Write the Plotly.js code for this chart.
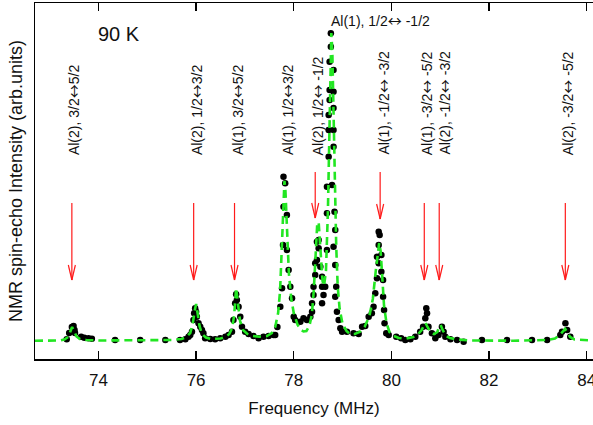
<!DOCTYPE html>
<html>
<head>
<meta charset="utf-8">
<script src="https://cdn.plot.ly/plotly-3.0.1.min.js"></script>
<style>html,body{margin:0;padding:0;background:#fff;overflow:hidden}#chart{width:593px;height:425px}</style>
</head>
<body>
<div id="chart"></div>
<script>
// measured spin-echo points (frequency MHz, intensity arb. units)
const dataFreq = [73.35,73.40,73.455,73.49,73.51,73.52,73.645,73.71,73.795,73.865,74.34,74.855,75.37,75.67,75.78,75.845,75.88,75.915,75.945,75.96,75.98,76.0,76.015,76.05,76.085,76.12,76.15,76.185,76.29,76.39,76.495,76.6,76.665,76.735,76.765,76.80,76.82,76.835,76.87,76.905,76.94,77.005,77.075,77.175,77.28,77.38,77.485,77.585,77.62,77.665,77.725,77.76,77.78,77.79,77.79,77.825,77.86,77.86,77.895,77.93,77.965,78.0,78.03,78.135,78.2,78.27,78.34,78.375,78.375,78.405,78.405,78.44,78.44,78.475,78.475,78.51,78.51,78.545,78.58,78.58,78.61,78.58,78.645,78.68,78.68,78.68,78.715,78.715,78.715,78.735,78.735,78.735,78.76,78.76,78.815,78.815,78.815,78.815,78.815,78.785,78.835,78.85,78.815,78.85,78.87,78.85,78.885,78.92,78.955,78.99,79.09,79.225,79.33,79.40,79.465,79.535,79.60,79.635,79.67,79.705,79.705,79.74,79.74,79.76,79.74,79.795,79.795,79.83,79.83,79.85,79.86,79.895,79.945,80.10,80.20,80.285,80.39,80.49,80.59,80.65,80.695,80.715,80.73,80.76,80.83,80.90,80.965,81.035,81.07,81.105,81.21,81.345,81.48,81.855,82.37,82.88,83.19,83.46,83.495,83.565,83.60,83.665];
const dataInt = [1.7,8,14,15,11,8,4.3,3.3,2.7,2.3,1,1,1,1,1.7,4.3,6,9.3,21,27.7,32.7,29.3,24.3,17.7,14.3,11,7.7,2.7,2,1.7,2.7,4.3,6,9.3,21,37.7,46.7,41,34.3,24.3,14.3,9.3,7,5,2.7,4.3,5,6,6,14,34.3,52.7,96,134.3,164.3,157.7,126,91,71,54.3,42.7,24.3,21,19.3,22.7,21,24.3,29.3,37.7,46,54.3,66,77.7,81,99.3,92.7,101,74.3,64.3,54.3,46,37.7,54.3,91,127.7,154.3,184.3,211,226,241,251,279.3,294.3,307.7,271,249.3,233,211,194.3,156,129.3,111,94.3,76,54.3,44.3,29.3,21,12.7,9.3,9.3,7.7,7,14.3,15,24.3,27.7,34.3,47.7,62.7,84.3,77.7,96,106,109.3,86,69.3,61,44.3,31,17.7,7.7,6,4.3,2.7,1,1.7,4.3,9.3,14.3,22.7,32.7,27.7,14.3,7.7,2.7,6,14.3,9.3,4.3,1.7,1,-0.7,1,1,1,1,6,9.3,17.7,11,4.3];

// fitted curve
const fitFreq = [72.7,73.2,73.3,73.38,73.42,73.46,73.50,73.55,73.62,73.75,74.0,75.0,75.5,75.7,75.8,75.88,75.93,75.97,76.0,76.03,76.07,76.12,76.2,76.3,76.4,76.5,76.6,76.68,76.74,76.78,76.82,76.86,76.9,76.96,77.05,77.15,77.3,77.45,77.55,77.62,77.68,77.72,77.76,77.79,77.81,77.83,77.86,77.9,77.95,78.0,78.08,78.15,78.2,78.26,78.32,78.37,78.41,78.45,78.48,78.51,78.53,78.56,78.59,78.62,78.66,78.70,78.73,78.75,78.77,78.79,78.81,78.84,78.87,78.9,78.94,79.0,79.08,79.15,79.25,79.35,79.45,79.55,79.62,79.68,79.72,79.75,79.78,79.81,79.85,79.9,79.96,80.05,80.15,80.3,80.45,80.55,80.62,80.67,80.70,80.74,80.8,80.87,80.94,80.98,81.01,81.05,81.12,81.2,81.35,81.6,82.5,83.2,83.35,83.45,83.52,83.56,83.60,83.66,83.75,84.13];
const fitInt = [0.3,0.5,1.5,4,9,14,10,4.5,2,1,0.5,0.5,1,2,4,8,17,30,37,28,15,7,3.5,2,2,2.5,4,7,13,26,53,35,20,11,7,5,4.3,5,8,14,28,50,95,145,160,150,110,68,42,28,16,11,9.5,10,15,26,50,90,116,119,105,80,60,55,70,130,220,280,308,290,240,160,95,55,32,17,10,7,7,9,14,25,42,70,90,98,90,65,35,18,9,5,3,2.5,4,7,11,16,18,14,9,7,9,14,16,11,5,3,1.5,0.5,0.3,1,2.5,6,10,12,9,4,1.5,0.5];

// transition markers
const arrowFreq = [73.455,75.95,76.787,78.44,79.77,80.674,80.98,83.563];
const arrowTop  = [138,138,138,169,169,138,138,138];
const arrowTip  = [61,61,61,123,122,61,61,61];

const AR = '<span style="font-family:Noto Sans CJK JP">\u2194</span>';
const labelText = ["Al(2), 3/2"+AR+"5/2","Al(2), 1/2"+AR+"3/2","Al(1), 3/2"+AR+"5/2","Al(1), 1/2"+AR+"3/2","Al(2), 1/2"+AR+" -1/2","Al(1), -1/2"+AR+" -3/2","Al(1), -3/2"+AR+" -5/2","Al(2), -1/2"+AR+" -3/2","Al(2), -3/2"+AR+" -5/2"];
const labelFreq = [73.48,76.0,76.84,77.86,78.475,79.82,80.715,81.07,83.6];
const labelBase = 184;

const mainLabel = "Al(1), 1/2"+AR+" -1/2";
const mainLabelPos = [79.77, 321];
const tempLabel = "90 K";
const tempLabelPos = [74.42, 307];

const xTicks = [74,76,78,80,82,84];

const font = "Liberation Sans, Arial, sans-serif";
const red = "#ff1a1a";

const shapes = [];
arrowFreq.forEach((f,i) => {
  shapes.push({type:"line", xref:"x", yref:"y", x0:f, x1:f, y0:arrowTop[i], y1:arrowTip[i], line:{color:red, width:1.2}});
  shapes.push({type:"line", xref:"x", yref:"y", x0:f-0.072, x1:f, y0:arrowTip[i]+15, y1:arrowTip[i], line:{color:red, width:1.2}});
  shapes.push({type:"line", xref:"x", yref:"y", x0:f+0.072, x1:f, y0:arrowTip[i]+15, y1:arrowTip[i], line:{color:red, width:1.2}});
});

const annotations = labelText.map((t,i) => ({
  text:t, x:labelFreq[i], y:labelBase, xref:"x", yref:"y", textangle:-90,
  xanchor:"center", yanchor:"bottom", showarrow:false,
  font:{family:font, size:14, color:"#111"}
}));
annotations.push({text:mainLabel, x:mainLabelPos[0], y:mainLabelPos[1], xref:"x", yref:"y", showarrow:false, xanchor:"center", yanchor:"middle", font:{family:font, size:14, color:"#111"}});
annotations.push({text:tempLabel, x:tempLabelPos[0], y:tempLabelPos[1], xref:"x", yref:"y", showarrow:false, xanchor:"center", yanchor:"middle", font:{family:font, size:20, color:"#111"}});

const traces = [
  {x:dataFreq, y:dataInt, type:"scatter", mode:"markers", marker:{color:"#000", size:6.5}, hoverinfo:"skip"},
  {x:fitFreq, y:fitInt, type:"scatter", mode:"lines", line:{color:"#22e622", width:2.6, dash:"8px,5px"}, hoverinfo:"skip"}
];

const layout = {
  width:593, height:425,
  margin:{l:35, r:0, t:3, b:66},
  paper_bgcolor:"#fff", plot_bgcolor:"#fff",
  showlegend:false,
  xaxis:{range:[72.7,84.13], tickvals:xTicks, ticktext:xTicks.map(String), ticks:"inside", ticklen:8, tickwidth:1.5, tickcolor:"#000",
    showline:true, linecolor:"#000", linewidth:1.5, mirror:"ticks", showgrid:false, zeroline:false,
    ticklabeloverflow:"allow", ticklabelstandoff:5,
    tickfont:{family:font, size:17, color:"#111"},
    title:{text:"Frequency (MHz)", font:{family:font, size:17, color:"#111"}, standoff:13}},
  yaxis:{range:[-18,338], showticklabels:false, ticks:"", showline:true, linecolor:"#000", linewidth:1.5, showgrid:false, zeroline:false,
    title:{text:"NMR spin-echo Intensity (arb.units)", font:{family:font, size:18, color:"#111"}, standoff:6}},
  shapes:shapes, annotations:annotations
};

Plotly.newPlot("chart", traces, layout, {displayModeBar:false, staticPlot:true});
</script>
</body>
</html>
